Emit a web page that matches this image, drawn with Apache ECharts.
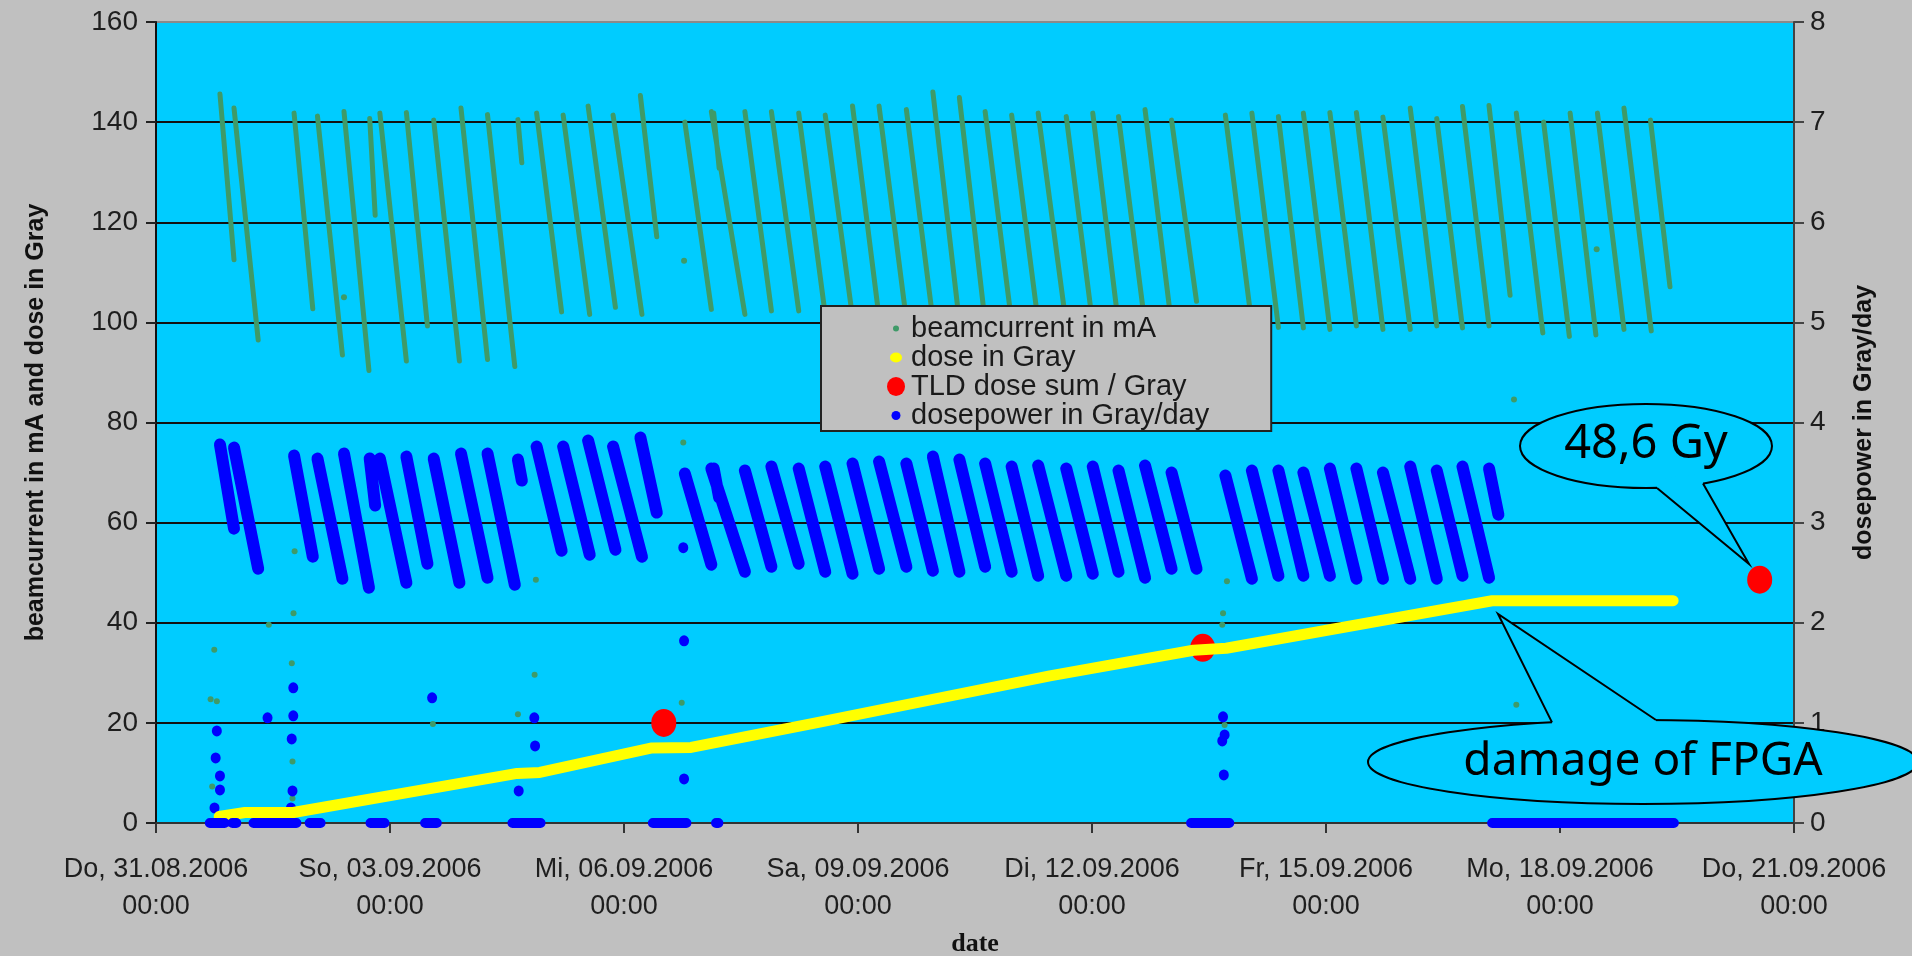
<!DOCTYPE html>
<html><head><meta charset="utf-8">
<script src="https://cdn.jsdelivr.net/npm/echarts@6/dist/echarts.min.js"></script>
<style>html,body{margin:0;padding:0;background:#c0c0c0;}#chart{width:1912px;height:956px;}</style>
</head><body><div id="chart"></div>
<script>
// time in days since Do, 31.08.2006 00:00
const xTickLabels = ['Do, 31.08.2006\n00:00','So, 03.09.2006\n00:00','Mi, 06.09.2006\n00:00','Sa, 09.09.2006\n00:00','Di, 12.09.2006\n00:00','Fr, 15.09.2006\n00:00','Mo, 18.09.2006\n00:00','Do, 21.09.2006\n00:00'];

// beamcurrent (mA): each fill from start (top) to end (bottom)
const beamStartDay = [0.82,1.00,1.77,2.07,2.41,2.74,2.87,3.21,3.56,3.91,4.25,4.64,4.88,5.22,5.54,5.86,6.21,6.78,7.12,7.15,7.55,7.89,8.24,8.58,8.93,9.27,9.62,9.96,10.30,10.63,10.97,11.31,11.67,12.01,12.34,12.68,13.02,13.71,14.05,14.39,14.71,15.05,15.39,15.73,16.08,16.42,16.75,17.09,17.44,17.79,18.13,18.48,18.82,19.16];
const beamEndDay   = [1.00,1.31,2.01,2.39,2.73,2.81,3.21,3.48,3.89,4.25,4.60,4.69,5.20,5.56,5.89,6.23,6.42,7.12,7.55,7.22,7.89,8.24,8.58,8.93,9.27,9.62,9.96,10.30,10.63,10.97,11.31,11.67,12.01,12.34,12.68,13.02,13.34,14.05,14.39,14.71,15.05,15.39,15.73,16.08,16.42,16.75,17.09,17.36,17.78,18.12,18.46,18.82,19.17,19.41];
const beamTop      = [145.6,142.8,141.8,141.2,142.1,140.7,141.8,141.9,140.4,142.8,141.5,140.5,141.8,141.4,143.2,141.4,145.3,140.0,142.1,141.8,142.1,142.1,141.8,141.4,143.2,143.2,142.5,146.0,144.9,142.1,141.4,141.8,141.1,141.8,141.1,142.5,140.4,141.4,141.8,141.1,141.8,141.9,141.9,141.0,142.8,140.7,143.1,143.3,141.8,140.0,141.8,141.8,142.8,140.4];
const beamBottom   = [112.5,96.5,102.7,93.5,90.4,121.4,92.3,99.3,92.3,92.6,91.2,131.9,102.1,101.6,103.0,101.6,117.1,102.6,101.6,130.8,102.3,102.3,101.5,101.0,101.0,100.5,100.5,100.0,100.0,100.0,100.0,99.5,99.5,99.5,99.5,99.5,104.2,99.5,99.0,98.9,98.6,99.3,98.6,98.6,99.3,98.9,99.3,105.4,97.9,97.2,97.5,98.6,98.3,107.1];
const beamDotDay   = [0.70,0.72,0.747,0.78,1.446,1.741,1.75,1.75,1.763,1.777,2.41,3.55,4.64,4.854,4.87,6.74,6.76,6.77,13.67,13.68,13.70,13.73,17.41,17.44,18.47];
const beamDotValue = [24.7,7.3,34.6,24.3,39.6,31.9,12.3,4.9,41.9,54.3,105.0,19.8,21.7,29.6,48.6,24.0,76.0,112.3,39.6,41.9,19.6,48.3,84.6,23.6,114.6];

// dose in Gray
const doseDay   = [0.81,1.14,1.76,4.63,4.92,6.36,6.86,8.46,11.46,13.30,13.72,17.13,19.45];
const doseValue = [1.3,2.1,2.1,9.9,10.1,15.0,15.1,20.0,29.4,34.5,34.9,44.4,44.4];

// TLD dose sum / Gray
const tldDay   = [6.51,13.42,20.56];
const tldValue = [20,35,48.6];

// dosepower (Gray/day)
const dpStartDay = [0.82,1.00,1.77,2.07,2.41,2.74,2.87,3.21,3.56,3.91,4.25,4.64,4.88,5.22,5.54,5.86,6.21,6.78,7.12,7.15,7.55,7.89,8.24,8.58,8.93,9.27,9.62,9.96,10.30,10.63,10.97,11.31,11.67,12.01,12.34,12.68,13.02,13.71,14.05,14.39,14.71,15.05,15.39,15.73,16.08,16.42,16.75,17.09];
const dpEndDay   = [1.00,1.31,2.01,2.39,2.73,2.81,3.21,3.48,3.89,4.25,4.60,4.69,5.20,5.56,5.89,6.23,6.42,7.12,7.55,7.22,7.89,8.24,8.58,8.93,9.27,9.62,9.96,10.30,10.63,10.97,11.31,11.67,12.01,12.34,12.68,13.02,13.34,14.05,14.39,14.71,15.05,15.39,15.73,16.08,16.42,16.75,17.09,17.21];
const dpTop      = [3.78,3.75,3.67,3.64,3.69,3.64,3.64,3.66,3.64,3.69,3.69,3.63,3.76,3.76,3.82,3.76,3.85,3.49,3.54,3.54,3.52,3.56,3.54,3.56,3.59,3.61,3.59,3.66,3.63,3.59,3.56,3.57,3.54,3.56,3.52,3.57,3.50,3.47,3.52,3.52,3.50,3.54,3.54,3.50,3.56,3.52,3.56,3.54];
const dpBottom   = [2.94,2.54,2.66,2.44,2.35,3.17,2.40,2.59,2.40,2.45,2.38,3.42,2.72,2.68,2.73,2.66,3.10,2.58,2.51,3.25,2.56,2.59,2.51,2.49,2.54,2.56,2.52,2.51,2.56,2.51,2.47,2.47,2.49,2.51,2.45,2.54,2.54,2.44,2.47,2.47,2.47,2.44,2.44,2.44,2.44,2.47,2.45,3.08];
const dpZeroStart = [0.69,0.98,1.25,1.97,2.75,3.45,4.57,6.37,7.18,13.27,17.13];
const dpZeroEnd   = [0.88,1.03,1.80,2.11,2.93,3.60,4.93,6.80,7.21,13.76,19.46];
const dpDotDay   = [0.75,0.765,0.78,0.82,0.82,1.43,1.73,1.74,1.75,1.76,1.76,3.54,4.65,4.85,4.86,6.76,6.77,6.77,13.67,13.68,13.69,13.70];
const dpDotValue = [0.15,0.65,0.92,0.47,0.33,1.05,0.15,0.84,0.32,1.07,1.35,1.25,0.32,1.05,0.77,2.75,1.82,0.44,0.82,1.06,0.48,0.88];

function segments(s, e, a, b) {
  const out = [];
  for (let i = 0; i < s.length; i++) { out.push([s[i], a[i]], [e[i], b[i]], [e[i], '-']); }
  return out;
}
function pairs(x, y) { return x.map((v, i) => [v, y[i]]); }
const zeros = dpZeroStart.map(() => 0);

const GREEN = '#3f9a68', BLUE = '#0000ff', YELLOW = '#ffff00', RED = '#ff0000', CYAN = '#00ccff';
const F = 'Liberation Sans, Arial, sans-serif';

const chart = echarts.init(document.getElementById('chart'), null, {renderer: 'canvas'});
chart.setOption({
  animation: false,
  backgroundColor: '#c0c0c0',
  grid: {left: 156, right: 118, top: 22, bottom: 133, show: true, backgroundColor: CYAN,
         borderColor: '#8a8a8a', borderWidth: 2, containLabel: false, outerBoundsMode: 'none'},
  legend: {
    orient: 'vertical', left: 821, top: 306, itemWidth: 20, itemHeight: 20, itemGap: 0,
    padding: [8, 62, 1, 65], backgroundColor: '#c0c0c0', borderColor: '#222', borderWidth: 2,
    selectedMode: false,
    textStyle: {fontFamily: F, fontSize: 29, color: '#1a1a1a', lineHeight: 28},
    data: [
      {name: 'beamcurrent in mA', icon: 'path://M0,0M20,20M7,10a3,3 0 1,0 6,0a3,3 0 1,0 -6,0z', itemStyle: {color: GREEN, borderWidth: 0, opacity: 1}},
      {name: 'dose in Gray', icon: 'path://M0,0M20,20M4,10a6,5 0 1,0 12,0a6,5 0 1,0 -12,0z', itemStyle: {color: YELLOW, borderWidth: 0, opacity: 1}},
      {name: 'TLD dose sum / Gray', icon: 'path://M0,0M20,20M1,10a9,9.5 0 1,0 18,0a9,9.5 0 1,0 -18,0z', itemStyle: {color: RED, borderWidth: 0, opacity: 1}},
      {name: 'dosepower in Gray/day', icon: 'path://M0,0M20,20M5.5,10a4.5,4.5 0 1,0 9,0a4.5,4.5 0 1,0 -9,0z', itemStyle: {color: BLUE, borderWidth: 0, opacity: 1}}
    ]
  },
  xAxis: {
    type: 'value', min: 0, max: 21, interval: 3,
    name: 'date', nameLocation: 'middle', nameGap: 108,
    nameTextStyle: {fontFamily: 'Liberation Serif, Times New Roman, serif', fontWeight: 'bold', fontSize: 26, color: '#111'},
    axisLine: {show: true, onZero: false, lineStyle: {color: '#333', width: 2}},
    axisTick: {show: true, length: 10, lineStyle: {color: '#333', width: 2}},
    splitLine: {show: false},
    axisLabel: {fontFamily: F, fontSize: 27, lineHeight: 37, color: '#1e1e1e', margin: 28,
                showMinLabel: true, showMaxLabel: true,
                formatter: v => xTickLabels[Math.round(v / 3)]}
  },
  yAxis: [
    {type: 'value', min: 0, max: 160, interval: 20, position: 'left',
     name: 'beamcurrent in mA and dose in Gray', nameLocation: 'middle', nameGap: 107, nameRotate: 90,
     nameTextStyle: {fontFamily: F, fontWeight: 'bold', fontSize: 25, color: '#111'},
     axisLine: {show: true, lineStyle: {color: '#111', width: 2}},
     axisTick: {show: true, length: 10, lineStyle: {color: '#222', width: 2}},
     axisLabel: {fontFamily: F, fontSize: 28, color: '#1e1e1e', margin: 18},
     splitLine: {show: true, showMinLine: false, showMaxLine: false, lineStyle: {color: '#111', width: 2}}},
    {type: 'value', min: 0, max: 8, interval: 1, position: 'right',
     name: 'dosepower in Gray/day', nameLocation: 'middle', nameGap: 58, nameRotate: 90,
     nameTextStyle: {fontFamily: F, fontWeight: 'bold', fontSize: 25, color: '#111'},
     axisLine: {show: true, lineStyle: {color: '#444', width: 2}},
     axisTick: {show: true, length: 10, lineStyle: {color: '#444', width: 2}},
     axisLabel: {fontFamily: F, fontSize: 28, color: '#1e1e1e', margin: 16},
     splitLine: {show: false}}
  ],
  series: [
    {name: 'beamcurrent in mA', type: 'line', yAxisIndex: 0, showSymbol: false, symbol: 'none',
     connectNulls: false, emphasis: {disabled: true}, color: GREEN,
     lineStyle: {color: GREEN, width: 5, cap: 'round', join: 'round'},
     data: segments(beamStartDay, beamEndDay, beamTop, beamBottom)},
    {name: 'beamcurrent in mA', type: 'scatter', yAxisIndex: 0, symbolSize: 6, color: GREEN,
     itemStyle: {color: GREEN, opacity: 1}, emphasis: {disabled: true}, data: pairs(beamDotDay, beamDotValue)},
    {name: 'dose in Gray', type: 'line', yAxisIndex: 0, showSymbol: false, symbol: 'none', color: YELLOW,
     emphasis: {disabled: true}, lineStyle: {color: YELLOW, width: 11, cap: 'round', join: 'round'},
     data: pairs(doseDay, doseValue)},
    {name: 'TLD dose sum / Gray', type: 'scatter', yAxisIndex: 0, symbol: 'circle', symbolSize: [25, 28],
     color: RED, itemStyle: {color: RED, opacity: 1}, emphasis: {disabled: true}, clip: false, data: pairs(tldDay, tldValue)},
    {name: 'dosepower in Gray/day', type: 'line', yAxisIndex: 1, showSymbol: false, symbol: 'none', color: BLUE,
     connectNulls: false, emphasis: {disabled: true},
     lineStyle: {color: BLUE, width: 12, cap: 'round', join: 'round'},
     data: segments(dpStartDay, dpEndDay, dpTop, dpBottom)},
    {name: 'dosepower in Gray/day', type: 'line', yAxisIndex: 1, showSymbol: false, symbol: 'none', color: BLUE,
     connectNulls: false, clip: false, emphasis: {disabled: true},
     lineStyle: {color: BLUE, width: 10, cap: 'round'},
     data: segments(dpZeroStart, dpZeroEnd, zeros, zeros)},
    {name: 'dosepower in Gray/day', type: 'scatter', yAxisIndex: 1, symbolSize: [10, 11], color: BLUE,
     itemStyle: {color: BLUE, opacity: 1}, emphasis: {disabled: true}, data: pairs(dpDotDay, dpDotValue)}
  ],
  graphic: [
    {type: 'ellipse', z: 100, shape: {cx: 1646, cy: 446, rx: 126, ry: 42}, style: {fill: CYAN, stroke: '#000', lineWidth: 2}},
    {type: 'polygon', z: 101, shape: {points: [[1657, 488], [1749, 564], [1703, 483.5], [1703, 474], [1657, 479]]}, style: {fill: CYAN}},
    {type: 'polyline', z: 102, shape: {points: [[1657, 488], [1749, 564], [1703, 483.5]]}, style: {stroke: '#000', lineWidth: 2, fill: null}},
    {type: 'text', z: 103, x: 1646, y: 445, style: {text: '48,6 Gy', font: '47px "Noto Sans", sans-serif', fill: '#000',
      align: 'center', verticalAlign: 'middle', textAlign: 'center', textVerticalAlign: 'middle'}},
    {type: 'ellipse', z: 100, shape: {cx: 1643, cy: 762, rx: 275, ry: 42}, style: {fill: CYAN, stroke: '#000', lineWidth: 2}},
    {type: 'polygon', z: 101, shape: {points: [[1552, 722.4], [1498, 614], [1656, 720], [1656, 729], [1552, 731]]}, style: {fill: CYAN}},
    {type: 'polyline', z: 102, shape: {points: [[1552, 722.4], [1498, 614], [1656, 720]]}, style: {stroke: '#000', lineWidth: 2, fill: null}},
    {type: 'text', z: 103, x: 1643, y: 762, style: {text: 'damage of FPGA', font: '46px "Noto Sans", sans-serif', fill: '#000',
      align: 'center', verticalAlign: 'middle', textAlign: 'center', textVerticalAlign: 'middle'}}
  ]
});
</script></body></html>
